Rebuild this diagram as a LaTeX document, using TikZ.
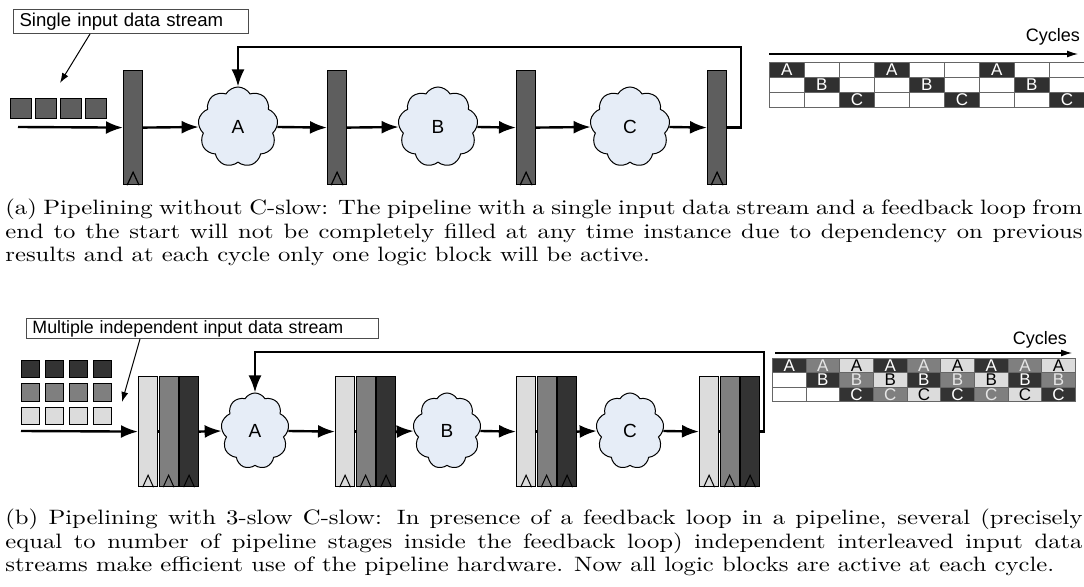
\documentclass[tikz,border=0pt]{standalone}
\usepackage{fontspec}
\setsansfont{Liberation Sans}
\usepackage{graphicx}
\usetikzlibrary{shapes.symbols,arrows.meta,calc}
\definecolor{regA}{HTML}{5E5E5E}
\definecolor{cloudfill}{HTML}{E6EDF7}
\definecolor{cdark}{HTML}{333333}
\definecolor{cmid}{HTML}{7F7F7F}
\definecolor{clight}{HTML}{DCDCDC}
\definecolor{tdark}{HTML}{303030}
\newcommand\clkA[1]{\draw[line width=0.6pt] ([xshift=-3pt]#1.south) -- ([yshift=6.5pt]#1.south) -- ([xshift=3pt]#1.south);}
\newcommand\clkB[1]{\draw[line width=0.5pt] ([xshift=-2.7pt]#1.south) -- ([yshift=6pt]#1.south) -- ([xshift=2.7pt]#1.south);}
\newcommand\captfont{\fontsize{10.4}{11.65}\selectfont}
\begin{document}
\begin{tikzpicture}[x=0.5pt,y=-0.5pt,
  arr/.style={line width=1.2pt,-{Latex[length=8.5pt,width=6.5pt]}},
  ln/.style={line width=1.2pt},
  ptr/.style={line width=0.5pt,-{Latex[length=5pt,width=3.5pt]}},
  tarr/.style={line width=0.6pt,-{Latex[length=5.5pt,width=3.5pt]}},
  regbox/.style={draw=black,line width=0.6pt,inner sep=0,anchor=north west,minimum width=9.5pt},
  logic/.style={cloud,cloud puffs=9,cloud puff arc=120,aspect=1,draw=black,line width=0.5pt,fill=cloudfill,inner sep=0,font=\sffamily\fontsize{9.5}{11}\selectfont},
  sq/.style={draw=black,line width=0.5pt,inner sep=0,anchor=north west},
  lbl/.style={draw=black!70,line width=0.5pt,anchor=north west,inner xsep=3pt,inner ysep=0,align=left},
  cell/.style={draw=black!60,line width=0.4pt,inner sep=0,anchor=north west,font=\sffamily\fontsize{8.5}{8.5}\selectfont},
  cyc/.style={font=\sffamily\fontsize{9}{10}\selectfont,inner sep=0}
]
\useasboundingbox (0,0) rectangle (1084,587);
\fill[white] (0,0) rectangle (1084,587);

%% ---------------- (a) ----------------
\node[lbl,minimum width=117.5pt,minimum height=12pt,text width=111.5pt,font=\sffamily\fontsize{9.3}{10}\selectfont] (lblA) at (13,9) {Single input data stream};
\foreach \i in {0,...,3}{
  \node[sq,fill=regA,minimum width=10.5pt,minimum height=10pt] (sa\i) at (10+25*\i,98) {};
}
\coordinate (ptA) at (60,83);
\draw[ptr] ($(lblA.south west)+(77,0)$) -- (ptA);

\node[regbox,fill=regA,minimum height=57pt] (r1) at (123,70) {};
\node[regbox,fill=regA,minimum height=57pt] (r2) at (327,70) {};
\node[regbox,fill=regA,minimum height=57pt] (r3) at (516,70) {};
\node[regbox,fill=regA,minimum height=57pt] (r4) at (707,70) {};
\clkA{r1}\clkA{r2}\clkA{r3}\clkA{r4}

\node[logic,minimum width=40pt,minimum height=40pt] (cA) at (238,127) {A};
\node[logic,minimum width=40pt,minimum height=40pt] (cB) at (438,127) {B};
\node[logic,minimum width=40pt,minimum height=40pt] (cC) at (630,127) {C};

\coordinate (inA) at (18,127);
\draw[arr] (inA) -- (r1.west);
\draw[arr] (r1.east) -- (cA.west);
\draw[arr] (cA.east) -- (r2.west);
\draw[arr] (r2.east) -- (cB.west);
\draw[arr] (cB.east) -- (r3.west);
\draw[arr] (r3.east) -- (cC.west);
\draw[arr] (cC.east) -- (r4.west);
\coordinate (fbA) at (741,47);
\draw[arr] (r4.east) -| (fbA) -| (cA.north);

% timing (a)
\node[cyc] (cycA) at (1053,37) {Cycles};
\coordinate (tA0) at (769,54);
\coordinate (tA1) at (1078,54);
\draw[tarr] (tA0) -- (tA1);
\foreach \c in {0,...,8}{
  \foreach \r in {0,1,2}{
    \pgfmathtruncatemacro\m{mod(\c,3)}
    \ifnum\m=\r
      \node[cell,fill=tdark,text=white,minimum width=17.5pt,minimum height=7.5pt] (ta-\c-\r) at (769+35*\c,62+15*\r) {\ifcase\r A\or B\or C\fi};
    \else
      \node[cell,fill=white,minimum width=17.5pt,minimum height=7.5pt] (ta-\c-\r) at (769+35*\c,62+15*\r) {};
    \fi
  }
}

\node[anchor=base west,inner sep=0] (capA) at (5,215) {\scalebox{1.185}[1]{\parbox[t]{454.5pt}{\captfont (a) Pipelining without C-slow: The pipeline with a single input data stream and a feedback loop from\linebreak end to the start will not be completely filled at any time instance due to dependency on previous\linebreak results and at each cycle only one logic block will be active.}}};

%% ---------------- (b) ----------------
\node[lbl,minimum width=176pt,minimum height=10pt,text width=170pt,font=\sffamily\fontsize{8.9}{10}\selectfont] (lblB) at (26,318) {Multiple independent input data stream};
\foreach \j/\col in {0/cdark,1/cmid,2/clight}{
  \foreach \i in {0,...,3}{
    \node[sq,fill=\col,minimum width=9pt,minimum height=8.75pt] (sb\j\i) at (21+24*\i,360+23.5*\j) {};
  }
}
\coordinate (ptB) at (122,402);
\draw[ptr] ($(lblB.south west)+(114,0)$) -- (ptB);

\foreach \g/\L in {1/138,2/335,3/516,4/699}{
  \foreach \k/\col in {0/clight,1/cmid,2/cdark}{
    \node[regbox,fill=\col,minimum height=55pt] (rb\g\k) at (\L+20.5*\k,376) {};
    \clkB{rb\g\k}
  }
  \draw[ln] (rb\g0.east) -- (rb\g1.west);
  \draw[ln] (rb\g1.east) -- (rb\g2.west);
}

\node[logic,minimum width=34pt,minimum height=38pt] (cbA) at (255,431) {A};
\node[logic,minimum width=34pt,minimum height=38pt] (cbB) at (447,431) {B};
\node[logic,minimum width=34pt,minimum height=38pt] (cbC) at (630,431) {C};

\coordinate (inB) at (21,431);
\draw[arr] (inB) -- (rb10.west);
\draw[arr] (rb12.east) -- (cbA.west);
\draw[arr] (cbA.east) -- (rb20.west);
\draw[arr] (rb22.east) -- (cbB.west);
\draw[arr] (cbB.east) -- (rb30.west);
\draw[arr] (rb32.east) -- (cbC.west);
\draw[arr] (cbC.east) -- (rb40.west);
\coordinate (fbB) at (764,352);
\draw[arr] (rb42.east) -| (fbB) -| (cbA.north);

% timing (b)
\node[cyc] (cycB) at (1040,340) {Cycles};
\coordinate (tB0) at (775,353);
\coordinate (tB1) at (1072,353);
\draw[tarr] (tB0) -- (tB1);
\foreach \c in {0,...,8}{
  \foreach \r in {0,1,2}{
    \ifnum\c<\r
      \node[cell,fill=white,minimum width=16.83pt,minimum height=7.17pt] (tb-\c-\r) at (772+33.67*\c,358+14.33*\r) {};
    \else
      \pgfmathtruncatemacro\k{mod(\c-\r,3)}
      \ifcase\k
        \node[cell,fill=cdark,text=white,minimum width=16.83pt,minimum height=7.17pt] (tb-\c-\r) at (772+33.67*\c,358+14.33*\r) {\ifcase\r A\or B\or C\fi};
      \or
        \node[cell,fill=cmid,text=white!90!black,minimum width=16.83pt,minimum height=7.17pt] (tb-\c-\r) at (772+33.67*\c,358+14.33*\r) {\ifcase\r A\or B\or C\fi};
      \else
        \node[cell,fill=clight,text=black,minimum width=16.83pt,minimum height=7.17pt] (tb-\c-\r) at (772+33.67*\c,358+14.33*\r) {\ifcase\r A\or B\or C\fi};
      \fi
    \fi
  }
}

\node[anchor=base west,inner sep=0] (capB) at (5,525) {\scalebox{1.185}[1]{\parbox[t]{454.5pt}{\captfont (b) Pipelining with 3-slow C-slow: In presence of a feedback loop in a pipeline, several (precisely\linebreak equal to number of pipeline stages inside the feedback loop) independent interleaved input data\linebreak streams make efficient use of the pipeline hardware. Now all logic blocks are active at each cycle.}}};
\end{tikzpicture}
\end{document}
